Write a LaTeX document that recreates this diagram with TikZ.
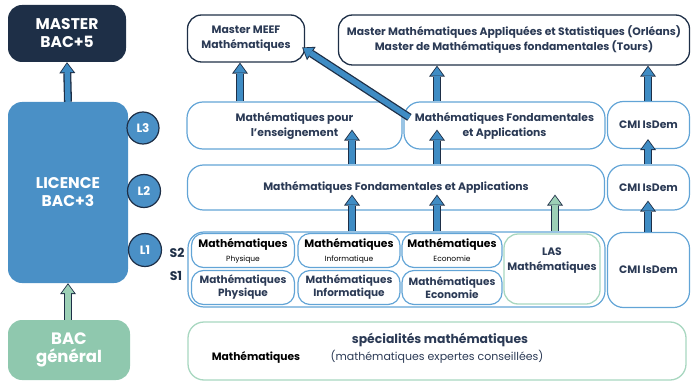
\documentclass[tikz,border=0pt]{standalone}
\usepackage{fontspec}
\setmainfont{Poppins}
\usetikzlibrary{arrows.meta,calc}
\definecolor{navy}{HTML}{1E2F47}
\definecolor{lblue}{HTML}{4A90C6}
\definecolor{ablue}{HTML}{3F8CC4}
\definecolor{edgeblue}{HTML}{62A4D6}
\definecolor{txt}{HTML}{2B3A55}
\definecolor{gfill}{HTML}{8FC8AE}
\definecolor{gedge}{HTML}{A8D7C0}
\definecolor{garrow}{HTML}{9CD0B6}
\begin{document}
\begin{tikzpicture}[x=1pt,y=-1pt,
  bx/.style={rounded corners=#1, inner sep=0pt, align=center, text=txt,
    font=\bfseries\fontsize{10.8}{15}\selectfont},
  bx/.default=16pt,
  darkbox/.style={bx=14pt, draw=navy, line width=1.3pt},
  bluebox/.style={bx=16pt, draw=edgeblue, line width=1.2pt},
  subbox/.style={bx=12pt, draw=edgeblue, line width=1.2pt, text=black},
  bigbox/.style={rounded corners=14pt, inner sep=0pt, align=center, text=white,
    font=\bfseries\fontsize{15.5}{18}\selectfont},
  levdisc/.style={draw=navy, line width=1.2pt, fill=lblue},
  lev/.style={inner sep=0pt, text=white, font=\bfseries\fontsize{12}{12}\selectfont},
  sem/.style={inner sep=0pt, text=navy, font=\bfseries\fontsize{12.5}{12}\selectfont},
  barrow/.style={line width=5.4pt, ablue, -{Triangle[length=8.6pt,width=12.4pt,line width=0pt]},
    shorten >=1.4pt,
    preaction={draw=navy, line width=8pt, -{Triangle[length=11pt,width=16pt,line width=0pt]}, shorten >=0pt}},
  garr/.style={barrow, garrow},
]
\useasboundingbox (0,0) rectangle (692,382);

% left column
\node[bigbox, fill=navy, minimum width=118pt, minimum height=57pt] (master) at (67,33.5) {MASTER\\BAC+5};
\node[bigbox, fill=lblue, minimum width=120pt, minimum height=181pt] (licence) at (68,192.5) {LICENCE\\BAC+3};
\node[bigbox, fill=gfill, minimum width=122pt, minimum height=60pt, font=\bfseries\fontsize{16.5}{18}\selectfont] (bac) at (69,350) {BAC\\général};
\filldraw[levdisc] (143,128) circle (16pt);
\filldraw[levdisc] (144,191) circle (16.5pt);
\filldraw[levdisc] (145,250) circle (16.5pt);
\node[lev] (l3) at (143,128) {L3};
\node[lev] (l2) at (144,191) {L2};
\node[lev] (l1) at (145,250) {L1};
\node[sem] (s2) at (177,253) {S2};
\node[sem] (s1) at (176,276) {S1};

% masters
\node[darkbox, minimum width=117pt, minimum height=47pt] (meef) at (246,38.5) {Master MEEF\\Mathématiques};
\node[darkbox, minimum width=351pt, minimum height=50pt] (mapp) at (514,40)
  {Master Mathématiques Appliquées et Statistiques (Orléans)\\Master de Mathématiques fondamentales (Tours)};

% L3
\node[bluebox, minimum width=215pt, minimum height=47pt] (pour) at (294.5,125.5) {Mathématiques pour\\l’enseignement};
\node[bluebox, minimum width=201pt, minimum height=47pt] (fond3) at (504.5,125.5) {Mathématiques Fondamentales\\et Applications};
\node[bluebox, minimum width=82pt, minimum height=47pt] (cmi3) at (648.5,125) {CMI IsDem};

% L2
\node[bluebox, minimum width=417pt, minimum height=45pt] (fond2) at (396,187.5) {Mathématiques Fondamentales et Applications};
\node[bluebox, minimum width=82pt, minimum height=45pt] (cmi2) at (648.5,187.5) {CMI IsDem};

% L1
\node[bluebox, minimum width=417pt, minimum height=75pt] (l1box) at (396.5,269.5) {};
\node[subbox, minimum width=103pt, minimum height=34pt] (s2phy) at (243,250.5)
  {\fontsize{10.8}{11}\selectfont Mathématiques\\[-1pt]\fontsize{7.5}{8}\selectfont\mdseries Physique};
\node[subbox, minimum width=102pt, minimum height=34pt] (s2inf) at (349,250.5)
  {\fontsize{10.8}{11}\selectfont Mathématiques\\[-1pt]\fontsize{7.5}{8}\selectfont\mdseries Informatique};
\node[subbox, minimum width=100pt, minimum height=34pt] (s2eco) at (452,250.5)
  {\fontsize{10.8}{11}\selectfont Mathématiques\\[-1pt]\fontsize{7.5}{8}\selectfont\mdseries Economie};
\node[subbox, text=txt, minimum width=103pt, minimum height=34pt, font=\bfseries\fontsize{10.5}{13}\selectfont] (s1phy) at (243,287.5) {Mathématiques\\Physique};
\node[subbox, text=txt, minimum width=102pt, minimum height=34pt, font=\bfseries\fontsize{10.5}{13}\selectfont] (s1inf) at (349,287.5) {Mathématiques\\Informatique};
\node[subbox, text=txt, minimum width=100pt, minimum height=34pt, font=\bfseries\fontsize{10.5}{13}\selectfont] (s1eco) at (452,287.5) {Mathématiques\\Economie};
\node[bx=14pt, draw=gedge, line width=1.3pt, minimum width=96pt, minimum height=70pt] (las) at (552,269) {LAS\\Mathématiques\\[4pt]};
\node[bluebox, minimum width=82pt, minimum height=75pt] (cmi1) at (648.5,270) {CMI IsDem};

% BAC specialities
\node[bx=16pt, draw=gedge, line width=1.3pt, minimum width=498pt, minimum height=58pt] (spec) at (437,351) {};
\node[inner sep=0pt, text=txt, font=\bfseries\fontsize{12.4}{13}\selectfont] (spect) at (440,340) {spécialités mathématiques};
\node[inner sep=0pt, text=black, font=\bfseries\fontsize{10.7}{11}\selectfont] (specm) at (256,357) {Mathématiques};
\node[inner sep=0pt, text=txt, font=\fontsize{11}{12}\selectfont] (spece) at (437,357) {(mathématiques expertes conseillées)};

% arrows
\coordinate (xa) at (352,0);
\coordinate (xb) at (437,0);
\coordinate (xc) at (555,0);
\coordinate (xd) at (648,0);
\coordinate (xe) at (240,0);
\draw[barrow] (licence.north) -- (master.south);
\draw[garr] (bac.north -| licence.north) -- (licence.south);
\draw[barrow] (pour.north -| xe) -- (meef.south -| xe);
\draw[barrow] ([xshift=6pt,yshift=-16pt]fond3.north west) -- ([xshift=-3pt,yshift=-9pt]meef.east);
\draw[barrow] (fond3.north -| xb) -- (mapp.south -| xb);
\draw[barrow] (cmi3.north -| xd) -- (mapp.south -| xd);
\draw[barrow] (fond2.north -| xa) -- ([yshift=20pt]pour.south -| xa);
\draw[barrow] (fond2.north -| xb) -- ([yshift=20pt]fond3.south -| xb);
\draw[barrow] (cmi2.north -| xd) -- ([yshift=10pt]cmi3.south -| xd);
\draw[barrow] (l1box.north -| xa) -- ([yshift=16pt]fond2.south -| xa);
\draw[barrow] (l1box.north -| xb) -- ([yshift=16pt]fond2.south -| xb);
\draw[garr] (l1box.north -| xc) -- ([yshift=16pt]fond2.south -| xc);
\draw[barrow] (cmi1.north -| xd) -- ([yshift=10pt]cmi2.south -| xd);
\end{tikzpicture}
\end{document}
